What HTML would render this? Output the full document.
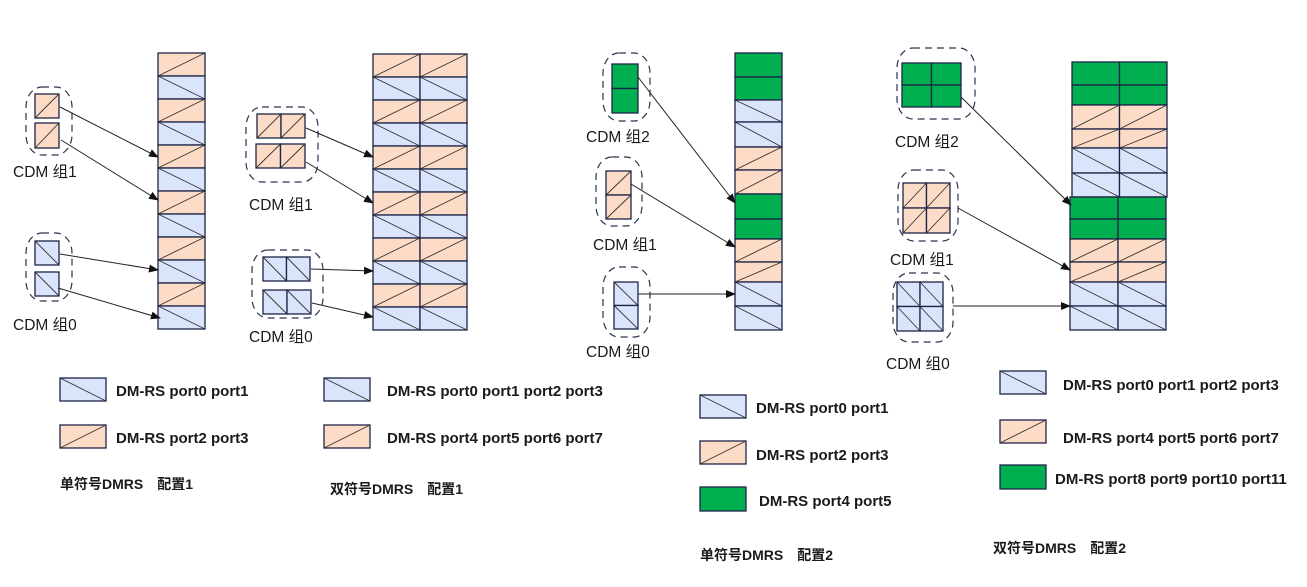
<!DOCTYPE html>
<html><head><meta charset="utf-8"><style>
html,body{margin:0;padding:0;background:#fff;width:1307px;height:587px;overflow:hidden}
svg{display:block}
text{font-family:"Liberation Sans","Noto Sans CJK SC",sans-serif;fill:#1a1a1a}
.lab{font-size:15.5px}
.leg{font-size:15px;font-weight:bold}
</style></head><body>
<svg id="s" width="1307" height="587" viewBox="0 0 1307 587" xmlns="http://www.w3.org/2000/svg">
<defs><marker id="ar" markerWidth="10" markerHeight="8" refX="9" refY="4" orient="auto" markerUnits="userSpaceOnUse"><path d="M0,0 L10,4 L0,8 z" fill="#111"/></marker></defs>
<g id="g"></g>
<g class="lab">
<text x="13" y="177">CDM 组1</text>
<text x="13" y="330">CDM 组0</text>
<text x="249" y="210">CDM 组1</text>
<text x="249" y="342">CDM 组0</text>
<text x="586" y="142">CDM 组2</text>
<text x="593" y="250">CDM 组1</text>
<text x="586" y="357">CDM 组0</text>
<text x="895" y="147">CDM 组2</text>
<text x="890" y="265">CDM 组1</text>
<text x="886" y="369">CDM 组0</text>
</g>
<g class="leg">
<text x="116" y="396">DM-RS port0 port1</text>
<text x="116" y="443">DM-RS port2 port3</text>
<text x="387" y="396">DM-RS port0 port1 port2 port3</text>
<text x="387" y="443">DM-RS port4 port5 port6 port7</text>
<text x="756" y="413">DM-RS port0 port1</text>
<text x="756" y="460">DM-RS port2 port3</text>
<text x="759" y="506">DM-RS port4 port5</text>
<text x="1063" y="390">DM-RS port0 port1 port2 port3</text>
<text x="1063" y="443">DM-RS port4 port5 port6 port7</text>
<text x="1055" y="484">DM-RS port8 port9 port10 port11</text>
<text x="60" y="489" style="font-size:14px">单符号DMRS　配置1</text>
<text x="330" y="494" style="font-size:14px">双符号DMRS　配置1</text>
<text x="700" y="560" style="font-size:14px">单符号DMRS　配置2</text>
<text x="993" y="553" style="font-size:14px">双符号DMRS　配置2</text>
</g>
</svg>
<script>
var g=document.getElementById('g'),h='';
var C={O:'#fcdcc6',B:'#dae5fb',G:'#00b050'},S='#1c2348';
function cell(t,x,y,w,hh){
 h+='<rect x="'+x+'" y="'+y+'" width="'+w+'" height="'+hh+'" fill="'+C[t]+'" stroke="'+S+'" stroke-width="1.3"/>';
 if(t=='O')h+='<line x1="'+x+'" y1="'+(y+hh)+'" x2="'+(x+w)+'" y2="'+y+'" stroke="#333" stroke-width="0.9"/>';
 if(t=='B')h+='<line x1="'+x+'" y1="'+y+'" x2="'+(x+w)+'" y2="'+(y+hh)+'" stroke="#333" stroke-width="0.9"/>';
}
function col(x,w,ncol,ys,types){
 for(var i=0;i<types.length;i++)for(var c=0;c<ncol;c++)cell(types[i],x+c*w,ys[i],w,ys[i+1]-ys[i]);
}
function even(y0,y1,n){var a=[];for(var i=0;i<=n;i++)a.push(y0+(y1-y0)*i/n);return a;}
var alt=[];for(var i=0;i<12;i++)alt.push(i%2?'B':'O');
col(158,47,1,even(53,329,12),alt);
col(373,47,2,even(54,330,12),alt);
col(735,47,1,[53,77,100,122,147,170,194,219,239,262,282,306,330],['G','G','B','B','O','O','G','G','O','O','B','B']);
col(1072,47.5,2,[62,85,105,129,148,173,197],['G','G','O','O','B','B']);
col(1070,48,2,[197,219,239,262,282,306,330],['G','G','O','O','B','B']);
function dash(x,y,w,hh){h+='<rect x="'+x+'" y="'+y+'" width="'+w+'" height="'+hh+'" rx="16" ry="20" fill="none" stroke="#2a3350" stroke-width="1.2" stroke-dasharray="7,5"/>';}
function grid(t,x,y,w,hh,nc,nr){for(var r=0;r<nr;r++)for(var c=0;c<nc;c++)cell(t,x+c*w/nc,y+r*hh/nr,w/nc,hh/nr);}
dash(26,87,46,68);cell('O',35,94,24,24);cell('O',35,123,24,25);
dash(26,233,46,68);cell('B',35,241,24,24);cell('B',35,272,24,24);
dash(246,107,72,75);grid('O',257,114,48,24,2,1);grid('O',256,144,49,24,2,1);
dash(252,250,71,68);grid('B',263,257,47,24,2,1);grid('B',263,290,48,24,2,1);
dash(603,53,47,68);grid('G',612,64,26,49,1,2);
dash(596,157,46,69);grid('O',606,171,25,48,1,2);
dash(603,267,47,70);grid('B',614,282,24,47,1,2);
dash(897,48,78,71);grid('G',902,63,59,44,2,2);
dash(898,170,60,71);grid('O',903,183,47,50,2,2);
dash(893,273,60,69);grid('B',897,282,46,49,2,2);
function ar(x1,y1,x2,y2){h+='<line x1="'+x1+'" y1="'+y1+'" x2="'+x2+'" y2="'+y2+'" stroke="#222" stroke-width="1" marker-end="url(#ar)"/>';}
ar(60,107,158,157);ar(61,140,158,200);ar(60,254,158,270);ar(58,288,160,318);
ar(306,128,373,157);ar(306,162,373,203);ar(311,269,373,271);ar(312,303,373,317);
ar(638,77,735,203);ar(631,184,735,247);ar(638,294,735,294);
ar(961,97,1071,205);ar(958,208,1070,270);ar(953,306,1070,306);
cell('B',60,378,46,23);cell('O',60,425,46,23);
cell('B',324,378,46,23);cell('O',324,425,46,23);
cell('B',700,395,46,23);cell('O',700,441,46,23);cell('G',700,487,46,24);
cell('B',1000,371,46,23);cell('O',1000,420,46,23);cell('G',1000,465,46,24);
g.innerHTML=h;
</script>
</body></html>
